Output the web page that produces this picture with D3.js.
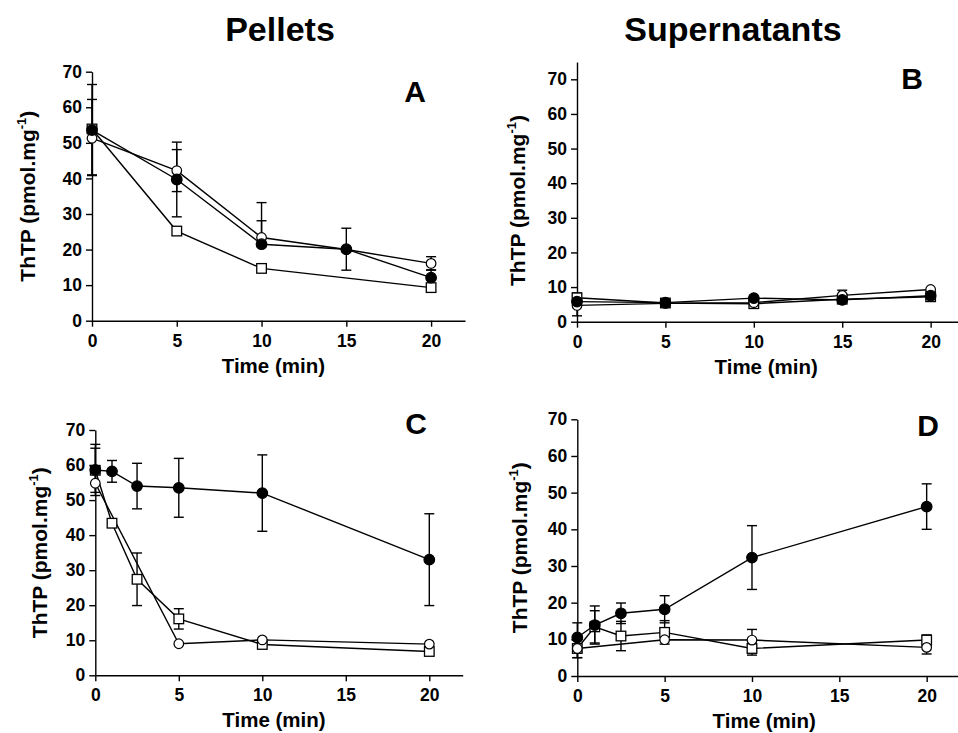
<!DOCTYPE html>
<html>
<head>
<meta charset="utf-8">
<script src="https://cdn.jsdelivr.net/npm/d3@7"></script>
<style>
  body { margin: 0; background: #fff; }
  svg text { font-family: "Liberation Sans", Arial, sans-serif; font-weight: bold; fill: #000; }
</style>
</head>
<body>
<div id="chart"></div>
<script>
// ---- data ----
var xTicks = [0, 5, 10, 15, 20];
var yTicks = [0, 10, 20, 30, 40, 50, 60, 70];

// Pellets, panel A
var timeA = [0, 5, 10, 15, 20];
var A_filled = [53.6, 39.7, 21.5, 20.1, 12.1];
var A_filledUp = [12.8, 10.5, 11.7, 5.9, 2.2];
var A_filledDn = [12.8, 10.5, 0, 5.9, 0];
var A_open = [51.3, 42.2, 23.4, 20.0, 16.1];
var A_openUp = [10.9, 5.9, 4.7, 0, 1.9];
var A_openDn = [10.3, 5.9, 0, 0, 1.9];
var timeA_sq = [0, 5, 10, 20];
var A_square = [53.9, 25.2, 14.7, 9.3];

// Supernatants, panel B
var timeB = [0, 5, 10, 15, 20];
var B_filled = [5.8, 5.5, 6.8, 6.3, 7.5];
var B_open = [4.7, 5.3, 5.5, 7.6, 9.3];
var B_openUp = [0, 0, 0, 1.5, 0];
var B_openDn = [3.0, 0, 0, 0, 0];
var B_square = [6.9, 5.4, 5.2, 6.5, 7.2];
var B_squareUp = [1.4, 0, 0, 0, 0];

// Pellets, panel C
var timeC = [0, 1, 2.5, 5, 10, 20];
var C_filled = [58.6, 58.2, 54.0, 53.5, 52.0, 33.0];
var C_filledUp = [7.3, 3.1, 6.5, 8.4, 10.9, 13.1];
var C_filledDn = [7.3, 3.1, 6.5, 8.4, 10.9, 13.1];
var timeC_open = [0, 5, 10, 20];
var C_open = [54.8, 9.0, 10.1, 8.9];
var C_square = [58.5, 43.4, 27.4, 16.1, 8.8, 6.8];
var C_squareErr = [6.3, 0, 7.5, 2.9, 0, 0];

// Supernatants, panel D
var timeD = [0, 1, 2.5, 5, 10, 20];
var D_filled = [10.5, 13.9, 17.1, 18.2, 32.3, 46.2];
var D_filledErr = [4.0, 5.2, 2.8, 3.7, 8.7, 6.2];
var timeD_open = [0, 5, 10, 20];
var D_open = [7.5, 9.9, 9.8, 7.8];
var D_openErr = [2.5, 0, 2.9, 1.8];
var D_square = [7.5, 13.4, 10.9, 11.9, 7.5, 9.8];
var D_squareErr = [2.5, 4.4, 4.0, 3.2, 1.8, 1.4];

function series(t, v, up, dn, shape) {
    return t.map(function (d, i) {
        return { t: d, v: v[i], up: up ? up[i] : 0, dn: dn ? dn[i] : (up ? up[i] : 0), shape: shape };
    });
}

var panels = [
    { letter: "A", xr: [92, 465], yr: [320.7, 71.7], ymax: 70, ylabX: 35, letterXY: [415, 102],
      series: [series(timeA_sq, A_square, null, null, "square"),
               series(timeA, A_open, A_openUp, A_openDn, "open"),
               series(timeA, A_filled, A_filledUp, A_filledDn, "filled")] },
    { letter: "B", xr: [577, 966], yr: [321.7, 62], ymax: 75, ylabX: 525, letterXY: [912, 89],
      series: [series(timeB, B_square, B_squareUp, [0, 0, 0, 0, 0], "square"),
               series(timeB, B_open, B_openUp, B_openDn, "open"),
               series(timeB, B_filled, null, null, "filled")] },
    { letter: "C", xr: [95.3, 462.7], yr: [675.3, 430], ymax: 70, ylabX: 47, letterXY: [416, 434],
      series: [series(timeC, C_square, C_squareErr, null, "square"),
               series(timeC_open, C_open, null, null, "open"),
               series(timeC, C_filled, C_filledUp, C_filledDn, "filled")] },
    { letter: "D", xr: [577.3, 961.6], yr: [676, 419.3], ymax: 70, ylabX: 527, letterXY: [928, 436],
      series: [series(timeD, D_square, D_squareErr, null, "square"),
               series(timeD_open, D_open, D_openErr, null, "open"),
               series(timeD, D_filled, D_filledErr, null, "filled")] }
];

var svg = d3.select("#chart").append("svg").attr("width", 958).attr("height", 733);

svg.append("text").attr("x", 280).attr("y", 41).attr("text-anchor", "middle")
    .attr("font-size", "34px").text("Pellets");
svg.append("text").attr("x", 733).attr("y", 41).attr("text-anchor", "middle")
    .attr("font-size", "34px").text("Supernatants");

panels.forEach(function (p) {
    var x = d3.scaleLinear().domain([0, 22]).range(p.xr);
    var y = d3.scaleLinear().domain([0, p.ymax]).range(p.yr);
    var g = svg.append("g");

    //axes
    var xAxis = d3.axisBottom(x).tickValues(xTicks).tickSize(6).tickSizeOuter(0).tickPadding(5);
    var gx = g.append("g").attr("transform", "translate(0," + p.yr[0] + ")").call(xAxis);
    var yAxis = d3.axisLeft(y).tickValues(yTicks).tickSize(6).tickSizeOuter(0).tickPadding(4);
    var gy = g.append("g").attr("transform", "translate(" + p.xr[0] + ",0)").call(yAxis);
    [gx, gy].forEach(function (a) {
        a.selectAll("path, line").attr("stroke", "#000").attr("stroke-width", 1.4);
        a.selectAll("text").attr("font-size", "17.5px").style("font-family", "'Liberation Sans', Arial, sans-serif")
            .style("font-weight", "bold").attr("fill", "#000");
    });
    gx.selectAll("text").attr("dy", "0.85em");

    //axis titles
    var cy = (p.yr[0] + y(70)) / 2;
    var yl = g.append("text").attr("transform", "translate(" + p.ylabX + "," + cy + ") rotate(-90)")
        .attr("text-anchor", "middle").attr("font-size", "21px");
    yl.append("tspan").text("ThTP (pmol.mg");
    yl.append("tspan").attr("dy", -9).attr("font-size", "13px").text("-1");
    yl.append("tspan").attr("dy", 9).text(")");

    g.append("text").attr("x", x(10.7)).attr("y", p.yr[0] + 52).attr("text-anchor", "middle")
        .attr("font-size", "20.5px").text("Time (min)");

    g.append("text").attr("x", p.letterXY[0]).attr("y", p.letterXY[1]).attr("text-anchor", "middle")
        .attr("font-size", "30px").text(p.letter);

    var line = d3.line().x(function (d) { return x(d.t); }).y(function (d) { return y(d.v); });

    //lines
    p.series.forEach(function (s) {
        g.append("path").datum(s).attr("d", line).attr("fill", "none")
            .attr("stroke", "#000").attr("stroke-width", 1.4);
    });

    //error bars
    p.series.forEach(function (s) {
        var eb = g.append("g").attr("stroke", "#000").attr("stroke-width", 1.4);
        s.forEach(function (d) {
            var cx = x(d.t);
            if (d.up > 0) {
                eb.append("line").attr("x1", cx).attr("x2", cx).attr("y1", y(d.v)).attr("y2", y(d.v + d.up));
                eb.append("line").attr("x1", cx - 5).attr("x2", cx + 5).attr("y1", y(d.v + d.up)).attr("y2", y(d.v + d.up));
            }
            if (d.dn > 0) {
                eb.append("line").attr("x1", cx).attr("x2", cx).attr("y1", y(d.v)).attr("y2", y(d.v - d.dn));
                eb.append("line").attr("x1", cx - 5).attr("x2", cx + 5).attr("y1", y(d.v - d.dn)).attr("y2", y(d.v - d.dn));
            }
        });
    });

    //markers
    p.series.forEach(function (s) {
        s.forEach(function (d) {
            if (d.shape === "square") {
                g.append("rect").attr("x", x(d.t) - 4.8).attr("y", y(d.v) - 4.8)
                    .attr("width", 9.6).attr("height", 9.6)
                    .attr("fill", "#fff").attr("stroke", "#000").attr("stroke-width", 1.3);
            } else {
                g.append("circle").attr("cx", x(d.t)).attr("cy", y(d.v)).attr("r", d.shape === "filled" ? 5.3 : 4.8)
                    .attr("fill", d.shape === "filled" ? "#000" : "#fff")
                    .attr("stroke", "#000").attr("stroke-width", 1.2);
            }
        });
    });
});
</script>
</body>
</html>
